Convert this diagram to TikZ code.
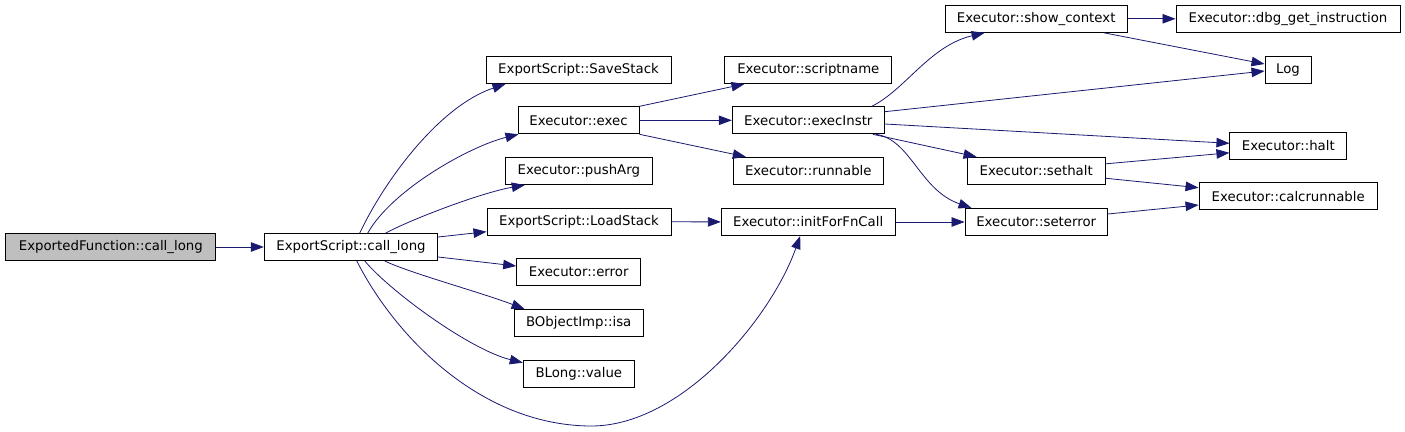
\documentclass[tikz,border=0pt]{standalone}
\definecolor{callBlue}{HTML}{191970}
\definecolor{rootGray}{HTML}{BFBFBF}
\usepackage{fontspec}
\setmainfont{DejaVu Sans}
\usepackage{tikz}
\usetikzlibrary{calc, arrows.meta}

\begin{document}
\begin{tikzpicture}
		[x=1pt, y=-1pt,
		block/.style ={rectangle, draw=black, line width=1pt, fill=white, minimum height=27pt, inner sep=0pt, font=\fontsize{13.3}{16}\selectfont},
		block2/.style ={block, fill=rootGray},
		call/.style ={-{Triangle[length=13pt, width=9.5pt]}, callBlue, line width=0.8pt}]
		\useasboundingbox (0,0) rectangle (1405,431);

		\draw (110.8,247) node[block2, minimum width=209.7pt] (ef) {ExportedFunction::call\_long};
		\draw (351,247) node[block, minimum width=173.4pt] (cl) {ExportScript::call\_long};

		\draw (578.5,70) node[block, minimum width=185pt] (savestack) {ExportScript::SaveStack};
		\draw (578.5,120.3) node[block, minimum width=121pt] (exec) {Executor::exec};
		\draw (578.8,171) node[block, minimum width=147pt] (pusharg) {Executor::pushArg};
		\draw (579,221.7) node[block, minimum width=184pt] (loadstack) {ExportScript::LoadStack};
		\draw (578.7,272) node[block, minimum width=124pt] (error) {Executor::error};
		\draw (578.7,323) node[block, minimum width=129.3pt] (isa) {BObjectImp::isa};
		\draw (578.8,373.7) node[block, minimum width=111pt] (value) {BLong::value};

		\draw (808.3,70) node[block, minimum width=166.7pt] (scriptname) {Executor::scriptname};
		\draw (808.3,120.3) node[block, minimum width=152pt] (execinstr) {Executor::execInstr};
		\draw (808.3,170.8) node[block, minimum width=150pt] (runnable) {Executor::runnable};
		\draw (808.2,222) node[block, minimum width=173.7pt] (init) {Executor::initForFnCall};

		\draw (1036.2,18.8) node[block, minimum width=182.3pt] (showctx) {Executor::show\_context};
		\draw (1036.2,170.8) node[block, minimum width=138.3pt] (sethalt) {Executor::sethalt};
		\draw (1036.2,222) node[block, minimum width=142.3pt] (seterror) {Executor::seterror};

		\draw (1288,18.8) node[block, minimum width=224pt] (dbg) {Executor::dbg\_get\_instruction};
		\draw (1288,70) node[block, minimum width=46pt] (log) {Log};
		\draw (1288.3,145.8) node[block, minimum width=116.7pt] (halt) {Executor::halt};
		\draw (1288.2,196.3) node[block, minimum width=178.3pt] (calcrun) {Executor::calcrunnable};

		\coordinate (low) at (590,426);

		% calls of ExportScript::call_long
		\draw (ef) edge [call] (cl);
		\draw[call] ($(cl.north west)+(96,0)$) .. controls +(25,-53) and +(-66,22) .. ($(savestack.south west)+(20,0)$);
		\draw[call] ($(cl.north west)+(104,0)$) .. controls +(24,-43) and +(-49,12) .. ($(exec.south west)+(1,0)$);
		\draw[call] ($(cl.north west)+(122,0)$) .. controls +(24,-13) and +(-45,8) .. ($(pusharg.south west)+(20,0)$);
		\draw ($(cl.east)+(0,-10)$) edge [call] ($(loadstack.west)+(0,10)$);
		\draw ($(cl.east)+(0,10)$) edge [call] ($(error.west)+(0,-6)$);
		\draw[call] ($(cl.south west)+(121,0)$) .. controls +(25,12) and +(-45,-17) .. ($(isa.north west)+(11,0)$);
		\draw[call] ($(cl.south west)+(101,0)$) .. controls +(25,30) and +(-53,-13) .. ($(value.north west)+(0,3)$);
		\draw[call] ($(cl.south west)+(93,0)$) .. controls +(38,75) and +(-110,-1) .. (low)
			.. controls +(90,1) and +(-30,84) .. ($(init.south)+(-8,0)$);

		\draw (loadstack) edge [call] (init);
		\draw (exec.north east) edge [call] ($(scriptname.south west)+(20,0)$);
		\draw (exec) edge [call] (execinstr);
		\draw (exec.south east) edge [call] ($(runnable.north west)+(13,0)$);

		% calls of Executor::execInstr
		\draw[call] ($(execinstr.north east)+(-13,0)$) .. controls +(34,-17) and +(-55,13) .. ($(showctx.south west)+(40,0)$);
		\draw ($(execinstr.east)+(0,-8.6)$) edge [call] ($(log.west)+(0,1)$);
		\draw ($(execinstr.east)+(0,3.7)$) edge [call] ($(halt.west)+(0,-2.5)$);
		\draw ($(execinstr.south east)+(-12,0)$) edge [call] ($(sethalt.north west)+(10,0)$);
		\draw[call] ($(execinstr.south east)+(-9,0)$) .. controls +(35,5) and +(-52,-18) .. ($(seterror.north west)+(7,0)$);
		\draw (init) edge [call] (seterror);

		\draw (showctx) edge [call] (dbg);
		\draw ($(showctx.south east)+(-24,0)$) edge [call] ($(log.west)+(0,-6)$);
		\draw ($(sethalt.east)+(0,-7)$) edge [call] ($(halt.west)+(0,7)$);
		\draw ($(sethalt.east)+(0,7.5)$) edge [call] ($(calcrun.west)+(0,-8.6)$);
		\draw ($(seterror.east)+(0,-8)$) edge [call] ($(calcrun.west)+(0,8.7)$);

	\end{tikzpicture}
\end{document}
